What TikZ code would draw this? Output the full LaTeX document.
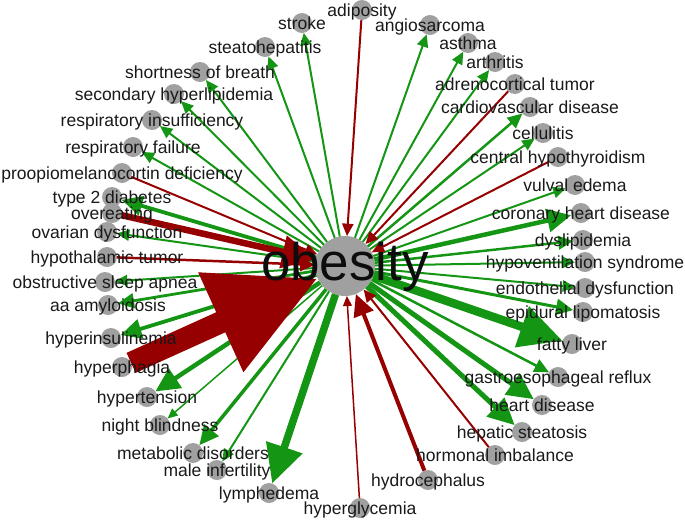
\documentclass[tikz,border=0pt]{standalone}
\usepackage{fontspec}
\setmainfont{Liberation Sans}
\usetikzlibrary{arrows.meta}
\definecolor{eg}{RGB}{20,150,20}
\definecolor{er}{RGB}{150,0,0}
\definecolor{ng}{RGB}{160,160,160}
\begin{document}
\begin{tikzpicture}[x=1pt,y=-1pt,
  nd/.style={circle,fill=ng,minimum size=20pt,inner sep=0pt,outer sep=0pt},
  lb/.style={font=\fontsize{17.5}{20}\selectfont,text=black!90,inner sep=0pt,text height=12.5pt,text depth=0pt},
  ge/.style={draw=eg,line width=#1,-{Triangle[length=3pt 4.7,width=2pt 4.6]}},
  re/.style={draw=er,line width=#1,-{Triangle[length=3pt 4.7,width=2pt 4.6]}}]
\useasboundingbox (0,0) rectangle (685,520);
% nodes
\node[nd,minimum size=60pt] (ob) at (345,266) {};
\node[nd] (stroke) at (302,23) {};
\node[nd] (steato) at (265,47) {};
\node[nd] (sob) at (200,72) {};
\node[nd] (shl) at (174,94) {};
\node[nd] (rins) at (152,120) {};
\node[nd] (rfail) at (133,147) {};
\node[nd] (pomc) at (122,173) {};
\node[nd] (t2d) at (112,197) {};
\node[nd] (over) at (112,213) {};
\node[nd] (ovar) at (107,232) {};
\node[nd] (hypot) at (107,257) {};
\node[nd] (osa) at (105,282) {};
\node[nd] (aa) at (108,305) {};
\node[nd] (hins) at (111,338) {};
\node[nd] (hphag) at (122,367) {};
\node[nd] (htens) at (147,397) {};
\node[nd] (night) at (160,425) {};
\node[nd] (meta) at (193,453) {};
\node[nd] (male) at (217,470) {};
\node[nd] (lymph) at (269,493) {};
\node[nd] (hglyc) at (360,508) {};
\node[nd] (hydro) at (428,480) {};
\node[nd] (horm) at (495,455) {};
\node[nd] (hepst) at (522,432) {};
\node[nd] (heart) at (542,405) {};
\node[nd] (gerd) at (558,377) {};
\node[nd] (fatty) at (572,344) {};
\node[nd] (epid) at (583,312) {};
\node[nd] (endo) at (585,288) {};
\node[nd] (hypov) at (585,262) {};
\node[nd] (dysl) at (583,240) {};
\node[nd] (chd) at (581,213) {};
\node[nd] (vulv) at (575,185) {};
\node[nd] (chypo) at (558,157) {};
\node[nd] (cell) at (543,133) {};
\node[nd] (cvd) at (530,107) {};
\node[nd] (adren) at (515,84) {};
\node[nd] (arth) at (495,62) {};
\node[nd] (asth) at (468,43) {};
\node[nd] (angio) at (430,25) {};
\node[nd] (adip) at (362,10) {};
% edges: obesity -> node (green)
\draw[ge=2] (ob) -- (stroke);
\draw[ge=2] (ob) -- (steato);
\draw[ge=2] (ob) -- (sob);
\draw[ge=2] (ob) -- (shl);
\draw[ge=2] (ob) -- (rins);
\draw[ge=2] (ob) -- (rfail);
\draw[ge=3.8] (ob) -- (t2d);
\draw[ge=2] (ob) -- (ovar);
\draw[ge=2] (ob) -- (osa);
\draw[ge=2.8] (ob) -- (aa);
\draw[ge=3.8] (ob) -- (hins);
\draw[ge=4.5] (ob) -- (htens);
\draw[ge=1.5] (ob) -- (night);
\draw[ge=3.5] (ob) -- (meta);
\draw[ge=2] (ob) -- (male);
\draw[ge=7.5] (ob) -- (lymph);
\draw[ge=5] (ob) -- (hepst);
\draw[ge=5] (ob) -- (heart);
\draw[ge=2.5] (ob) -- (gerd);
\draw[ge=8.5] (ob) -- (fatty);
\draw[ge=3] (ob) -- (epid);
\draw[ge=2] (ob) -- (endo);
\draw[ge=2] (ob) -- (hypov);
\draw[ge=2.5] (ob) -- (dysl);
\draw[ge=4.5] (ob) -- (chd);
\draw[ge=2] (ob) -- (vulv);
\draw[ge=2] (ob) -- (cell);
\draw[ge=2.5] (ob) -- (cvd);
\draw[ge=2] (ob) -- (arth);
\draw[ge=2] (ob) -- (asth);
\draw[ge=2] (ob) -- (angio);
% edges: node -> obesity (red)
\draw[re=2] (adip) -- (ob);
\draw[re=2] (adren) -- (ob);
\draw[re=2] (chypo) -- (ob);
\draw[re=2] (pomc) -- (ob);
\draw[re=6.5] (over) -- (ob);
\draw[re=2.5] (hypot) -- (ob);
\draw[re=22] (hphag) -- (ob);
\draw[re=1.5] (hglyc) -- (ob);
\draw[re=4] (hydro) -- (ob);
\draw[re=2] (horm) -- (ob);
% labels
\node[lb] (l-stroke) at (stroke) {stroke};
\node[lb] (l-steato) at (steato) {steatohepatitis};
\node[lb] (l-sob) at (sob) {shortness of breath};
\node[lb] (l-shl) at (shl) {secondary hyperlipidemia};
\node[lb] (l-rins) at (rins) {respiratory insufficiency};
\node[lb] (l-rfail) at (rfail) {respiratory failure};
\node[lb] (l-pomc) at (pomc) {proopiomelanocortin deficiency};
\node[lb] (l-t2d) at (t2d) {type 2 diabetes};
\node[lb] (l-over) at (over) {overeating};
\node[lb] (l-ovar) at (ovar) {ovarian dysfunction};
\node[lb] (l-hypot) at (hypot) {hypothalamic tumor};
\node[lb] (l-osa) at (osa) {obstructive sleep apnea};
\node[lb] (l-aa) at (aa) {aa amyloidosis};
\node[lb] (l-hins) at (hins) {hyperinsulinemia};
\node[lb] (l-hphag) at (hphag) {hyperphagia};
\node[lb] (l-htens) at (htens) {hypertension};
\node[lb] (l-night) at (night) {night blindness};
\node[lb] (l-meta) at (meta) {metabolic disorders};
\node[lb] (l-male) at (male) {male infertility};
\node[lb] (l-lymph) at (lymph) {lymphedema};
\node[lb] (l-hglyc) at (hglyc) {hyperglycemia};
\node[lb] (l-hydro) at (hydro) {hydrocephalus};
\node[lb] (l-horm) at (horm) {hormonal imbalance};
\node[lb] (l-hepst) at (hepst) {hepatic steatosis};
\node[lb] (l-heart) at (heart) {heart disease};
\node[lb] (l-gerd) at (gerd) {gastroesophageal reflux};
\node[lb] (l-fatty) at (fatty) {fatty liver};
\node[lb] (l-epid) at (epid) {epidural lipomatosis};
\node[lb] (l-endo) at (endo) {endothelial dysfunction};
\node[lb] (l-hypov) at (hypov) {hypoventilation syndrome};
\node[lb] (l-dysl) at (dysl) {dyslipidemia};
\node[lb] (l-chd) at (chd) {coronary heart disease};
\node[lb] (l-vulv) at (vulv) {vulval edema};
\node[lb] (l-chypo) at (chypo) {central hypothyroidism};
\node[lb] (l-cell) at (cell) {cellulitis};
\node[lb] (l-cvd) at (cvd) {cardiovascular disease};
\node[lb] (l-adren) at (adren) {adrenocortical tumor};
\node[lb] (l-arth) at (arth) {arthritis};
\node[lb] (l-asth) at (asth) {asthma};
\node[lb] (l-angio) at (angio) {angiosarcoma};
\node[lb] (l-adip) at (adip) {adiposity};
\node[font=\fontsize{53}{60}\selectfont,text=black!95,inner sep=0pt,anchor=base] (l-ob) at (345,280) {obesity};
\end{tikzpicture}
\end{document}
